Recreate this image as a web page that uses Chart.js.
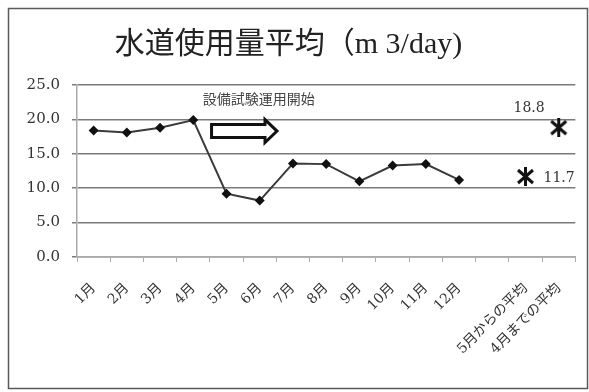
<!DOCTYPE html>
<html>
<head>
<meta charset="utf-8">
<script src="https://cdn.jsdelivr.net/npm/chart.js@4.4.1/dist/chart.umd.min.js"></script>
<style>
  html, body { margin: 0; padding: 0; background: #fff; }
</style>
</head>
<body>
<canvas class="chart" width="589" height="392"></canvas>
<script>
const months = ["1月", "2月", "3月", "4月", "5月", "6月", "7月", "8月", "9月", "10月", "11月", "12月"];
const avgNames = ["", "5月からの平均", "4月までの平均"];
const monthlyUsage = [18.4, 18.1, 18.8, 19.9, 9.2, 8.2, 13.6, 13.5, 11.0, 13.3, 13.5, 11.2];
const avgUsage = [11.7, 18.8]; // 5月から / 4月まで
const noteText = "設備試験運用開始";

const SERIF = '"DejaVu Serif", "Noto Sans CJK JP", serif';
const labels = months.concat(avgNames);

// X-shaped marker with a vertical bar for the average points
function makeStar(size) {
  const c = document.createElement("canvas");
  c.width = size;
  c.height = size;
  const ctx = c.getContext("2d");
  ctx.strokeStyle = "#111";
  ctx.lineWidth = 3;
  const p = 2;
  ctx.beginPath();
  ctx.moveTo(p, p + 1); ctx.lineTo(size - p, size - p - 1);
  ctx.moveTo(size - p, p + 1); ctx.lineTo(p, size - p - 1);
  ctx.moveTo(size / 2, 0); ctx.lineTo(size / 2, size);
  ctx.stroke();
  return c;
}

function padded(values, before, total) {
  const out = [];
  for (let i = 0; i < before; i++) out.push(null);
  values.forEach((v) => out.push(v));
  while (out.length < total) out.push(null);
  return out;
}

const framePlugin = {
  id: "frame",
  beforeDraw(chart) {
    const ctx = chart.ctx;
    ctx.save();
    ctx.fillStyle = "#fff";
    ctx.fillRect(0, 0, chart.width, chart.height);
    ctx.strokeStyle = "#5a5a5a";
    ctx.lineWidth = 1.5;
    ctx.strokeRect(8.5, 8.5, chart.width - 10, chart.height - 12);
    ctx.restore();
  },
};

// hollow arrow + caption, placed in data units
const notePlugin = {
  id: "note",
  afterDatasetsDraw(chart, args, opts) {
    const ctx = chart.ctx;
    const x = chart.scales.x;
    const y = chart.scales.y;
    const x0 = x.getPixelForValue(opts.from);
    const x1 = x.getPixelForValue(opts.to);
    const yc = y.getPixelForValue(opts.y);
    const sh = 6.5;
    const hh = 11.5;
    const hl = 12;
    ctx.save();
    ctx.beginPath();
    ctx.moveTo(x0, yc - sh);
    ctx.lineTo(x1 - hl, yc - sh);
    ctx.lineTo(x1 - hl, yc - hh);
    ctx.lineTo(x1, yc);
    ctx.lineTo(x1 - hl, yc + hh);
    ctx.lineTo(x1 - hl, yc + sh);
    ctx.lineTo(x0, yc + sh);
    ctx.closePath();
    ctx.fillStyle = "#fff";
    ctx.fill();
    ctx.lineWidth = 3;
    ctx.lineJoin = "miter";
    ctx.strokeStyle = "#111";
    ctx.stroke();

    ctx.font = '14px "Noto Sans CJK JP", sans-serif';
    ctx.fillStyle = "#444";
    ctx.textAlign = "center";
    ctx.textBaseline = "middle";
    ctx.fillText(opts.text, x.getPixelForValue(opts.textX), y.getPixelForValue(opts.textY));
    ctx.restore();
  },
};

// value labels beside the average markers
const avgLabelPlugin = {
  id: "avgLabels",
  afterDatasetsDraw(chart, args, opts) {
    const ctx = chart.ctx;
    const meta = chart.getDatasetMeta(1);
    const data = chart.data.datasets[1].data;
    ctx.save();
    ctx.font = "14px " + SERIF;
    ctx.fillStyle = "#333";
    ctx.textBaseline = "middle";
    let k = 0;
    meta.data.forEach((pt, i) => {
      if (data[i] === null) return;
      const place = opts.places[k++];
      ctx.textAlign = place.align;
      ctx.fillText(data[i].toFixed(1), pt.x + place.dx, pt.y + place.dy);
    });
    ctx.restore();
  },
};

function makeChart() {
  const canvas = document.getElementsByClassName("chart")[0];

  const datasets = [
    {
      label: "月別",
      data: padded(monthlyUsage, 0, labels.length),
      borderColor: "#3a3a3a",
      borderWidth: 2,
      backgroundColor: "#111",
      pointStyle: "rectRot",
      pointRadius: 5,
      pointBorderWidth: 0,
      tension: 0,
    },
    {
      label: "平均",
      data: padded(avgUsage, months.length + 1, labels.length),
      showLine: false,
      pointStyle: makeStar(19),
      pointRadius: 9,
    },
  ];

  const options = {
    responsive: false,
    animation: false,
    layout: { padding: { left: 0, right: 12, top: 0, bottom: 0 } },
    plugins: {
      legend: { display: false },
      tooltip: { enabled: false },
      title: {
        display: true,
        text: "水道使用量平均（m 3/day)",
        color: "#222",
        font: { family: '"Liberation Serif", "Noto Sans CJK JP", serif', size: 30, weight: "normal" },
        padding: { top: 27, bottom: 22 },
      },
      note: { from: 3.55, to: 5.52, y: 18.3, text: noteText, textX: 4.97, textY: 23.0 },
      avgLabels: {
        places: [
          { align: "left", dx: 18, dy: 1.5 },
          { align: "right", dx: -14, dy: -19 },
        ],
      },
    },
    scales: {
      x: {
        offset: true,
        grid: {
          offset: true,
          drawOnChartArea: false,
          tickLength: 5,
          color: "#aaa",
        },
        border: { color: "#aaa", width: 1.5 },
        ticks: {
          minRotation: 45,
          maxRotation: 45,
          autoSkip: false,
          padding: 18,
          color: "#333",
          font: { family: SERIF, size: 14 },
        },
        afterFit(scale) {
          scale.height = 135;
        },
      },
      y: {
        min: 0,
        max: 25,
        ticks: {
          stepSize: 5,
          padding: 12,
          color: "#333",
          font: { family: SERIF, size: 15 },
          callback: (v) => v.toFixed(1),
        },
        grid: {
          color: "#7a7a7a",
          lineWidth: 1.5,
          tickLength: 5,
        },
        border: { color: "#aaa", width: 1.5 },
        afterFit(scale) {
          scale.width = 77;
        },
      },
    },
  };

  new Chart(canvas, {
    type: "line",
    data: {
      labels: labels,
      datasets: datasets,
    },
    options: options,
    plugins: [framePlugin, notePlugin, avgLabelPlugin],
  });
}

makeChart();
</script>
</body>
</html>
